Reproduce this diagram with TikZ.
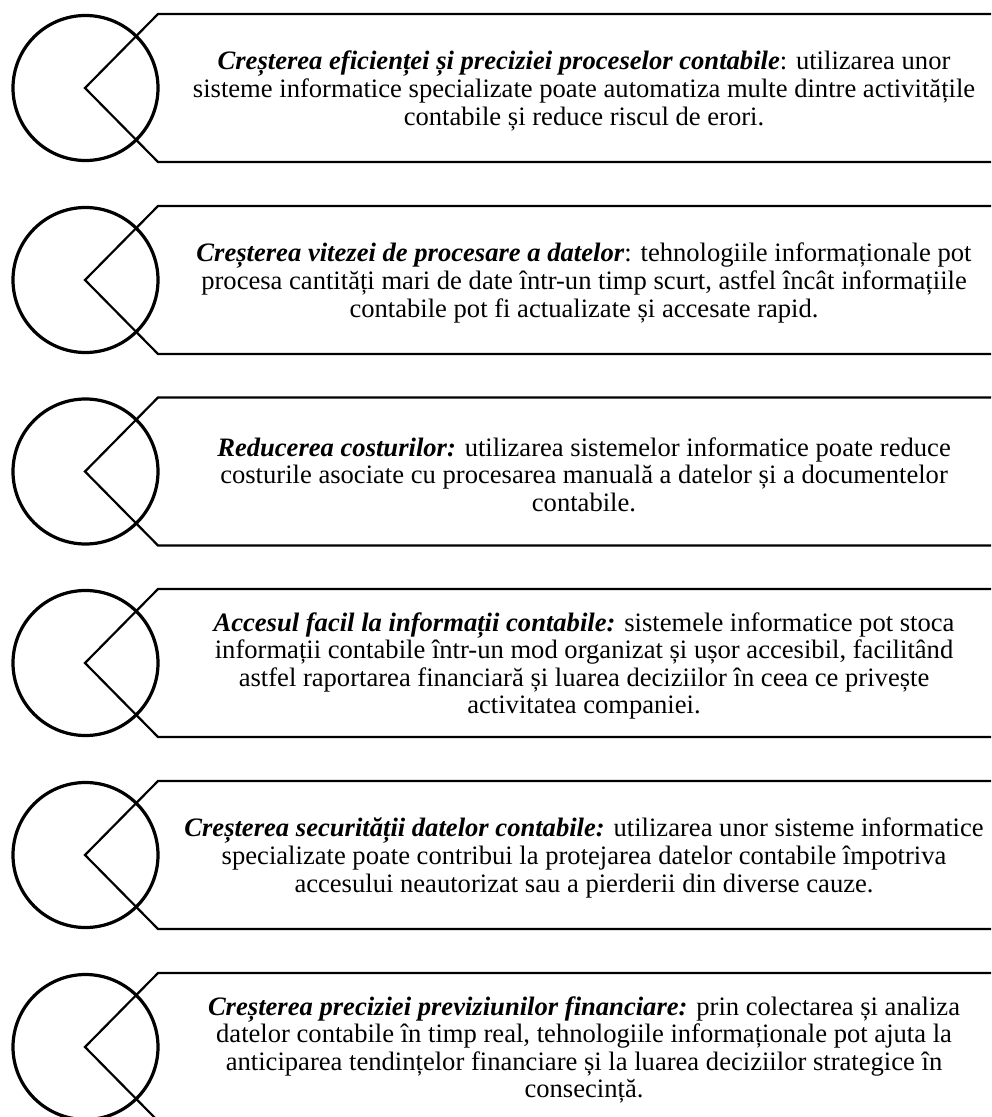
\documentclass[tikz,border=0pt]{standalone}
\usepackage{fontspec}
\setmainfont{Liberation Serif}

\begin{document}
\begin{tikzpicture}[x=0.5pt, y=-0.5pt,
 ring/.style={circle, draw, line width=1.6pt, minimum size=72.5pt, inner sep=0pt},
 chevron/.style={line width=1.1pt, line join=miter},
 item/.style={align=center, font=\fontsize{13.3}{13.8}\selectfont}]
 \useasboundingbox (0,0) rectangle (991,1117);
 \foreach \i/\y in {1/88, 2/280, 3/471.5, 4/663, 5/855, 6/1047}{
  \node[ring] (c\i) at (85.5,\y) {};
  \coordinate (tip\i) at (85,\y);% varful sagetii
  \draw[chevron] (991,\y-74) -- (158,\y-74) -- (tip\i) -- (158,\y+74) -- (991,\y+74);
 }
 \node[item] (t1) at (584,91) {\textbf{\textit{Creșterea eficienței și preciziei proceselor contabile}}: utilizarea unor\\
  sisteme informatice specializate poate automatiza multe dintre activitățile\\
  contabile și reduce riscul de erori.};
 \node[item] (t2) at (584,283) {\textbf{\textit{Creșterea vitezei de procesare a datelor}}: tehnologiile informaționale pot\\
  procesa cantități mari de date într-un timp scurt, astfel încât informațiile\\
  contabile pot fi actualizate și accesate rapid.};
 \node[item] (t3) at (584,474.5) {\textbf{\textit{Reducerea costurilor:}} utilizarea sistemelor informatice poate reduce\\
  costurile asociate cu procesarea manuală a datelor și a documentelor\\
  contabile.};
 \node[item] (t4) at (584,666) {\textbf{\textit{Accesul facil la informații contabile:}} sistemele informatice pot stoca\\
  informații contabile într-un mod organizat și ușor accesibil, facilitând\\
  astfel raportarea financiară și luarea deciziilor în ceea ce privește\\
  activitatea companiei.};
 \node[item] (t5) at (584,858) {\textbf{\textit{Creșterea securității datelor contabile:}} utilizarea unor sisteme informatice\\
  specializate poate contribui la protejarea datelor contabile împotriva\\
  accesului neautorizat sau a pierderii din diverse cauze.};
 \node[item] (t6) at (584,1050) {\textbf{\textit{Creșterea preciziei previziunilor financiare:}} prin colectarea și analiza\\
  datelor contabile în timp real, tehnologiile informaționale pot ajuta la\\
  anticiparea tendințelor financiare și la luarea deciziilor strategice în\\
  consecință.};
\end{tikzpicture}
\end{document}
